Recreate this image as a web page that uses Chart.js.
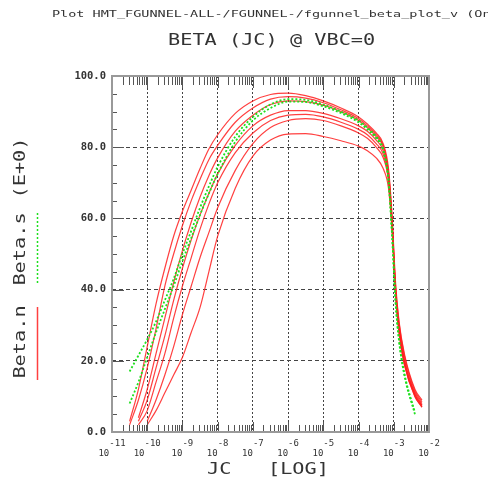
<!DOCTYPE html>
<html>
<head>
<meta charset="utf-8">
<script src="https://cdn.jsdelivr.net/npm/chart.js@4"></script>
<style>
  html, body { margin: 0; padding: 0; background: #fff; }
</style>
</head>
<body>
<canvas id="betaChart" width="488" height="485"></canvas>
<script>
// log10(JC) sample points
const logJc = [-10.5, -10.25, -10, -9.75, -9.5, -9.25, -9, -8.75, -8.5, -8.25, -8, -7.5, -7, -6.5, -6,
  -5.5, -5, -4.5, -4, -3.75, -3.5, -3.3, -3.15, -3.05, -2.95, -2.85, -2.7, -2.4, -2.2];

// Beta.n (measured, red)
const betaN1 = [3, 12, 24, 36, 46, 55, 62, 68, 74, 79.5, 83.5, 89.5, 93, 94.8, 95.2, 94.5, 93, 91, 88.5, 86.5, 84, 81, 74, 61, 42, 31, 22, 12, 9];
const betaN2 = [2, 9, 18, 29, 41, 50, 58, 65, 71, 76.5, 80.5, 87, 91, 93.5, 94.2, 93.8, 92.5, 90.5, 88, 86, 83.5, 80.5, 73, 60, 41, 30.5, 21.5, 11.5, 8.5];
const betaN3 = [null, 4, 12, 22, 32, 42, 51, 59, 66, 72, 77, 84.5, 89, 92, 93, 92.8, 91.8, 90, 87.5, 85.5, 83, 80, 72.5, 59, 40, 29.5, 20.5, 11, 8];
const betaN4 = [null, 3, 9, 18, 27, 37, 46, 54, 61, 67, 72.5, 80.5, 86, 89, 90.3, 90.3, 89.5, 88, 86, 84.5, 82, 79, 72, 58.5, 40, 29, 20, 10.5, 7.5];
const betaN5 = [null, 2, 6, 14, 22, 32, 41, 49, 57, 64, 70, 78.5, 84, 87.5, 89, 89.2, 88.5, 87, 85, 83.5, 81, 78, 71, 58, 39.5, 28.5, 19.5, 10.5, 7.5];
const betaN6 = [null, null, 3, 9, 16, 24, 33, 41, 49, 56, 63, 73.5, 81, 85.5, 87.5, 88, 87.5, 86, 84, 82.5, 80, 77, 70.5, 57.5, 39, 28, 19, 10, 7];
const betaN7 = [null, null, 2, 6, 11, 16, 21, 28, 35, 45, 55, 68.5, 77.5, 82, 83.7, 83.8, 83, 81.8, 80.3, 79, 77, 74, 68.5, 57, 39, 28, 19, 10, 7];

// Beta.s (simulated, green)
const betaS1 = [17, 21.5, 26, 31, 37, 43, 50, 56.5, 63, 69, 74.5, 83, 88.5, 92, 93.5, 93.3, 92, 90, 87.5, 85.5, 83, 79.5, 71, 56, 37, 26, 16.5, 5.5, null];
const betaS2 = [8, 14, 21, 28, 34.5, 41, 48, 54.5, 61, 67, 72.5, 81.5, 87.5, 91, 92.8, 92.7, 91.5, 89.6, 87, 85, 82.5, 79, 70.5, 55.5, 36.5, 25.5, 16, 5, null];

const yTicks = [0, 20, 40, 60, 80, 100];
const decades = [-11, -10, -9, -8, -7, -6, -5, -4, -3, -2];

const RED = "rgba(255, 30, 30, 0.85)";
const GREEN = "#1ee01e";
const TEXT = "#333";
const MONO = '"DejaVu Sans Mono", monospace';

const toPoints = (vals) => logJc.map((x, i) => ({ x: x, y: vals[i] }));

const redSet = (vals) => ({
  data: toPoints(vals),
  borderColor: RED,
  borderWidth: 1.2,
  pointRadius: 0,
  cubicInterpolationMode: "monotone",
});
const greenSet = (vals) => ({
  data: toPoints(vals),
  borderColor: GREEN,
  borderWidth: 1.8,
  borderDash: [2, 2],
  pointRadius: 0,
  cubicInterpolationMode: "monotone",
});

// stretched monospace text, like the plotter font
function wideText(ctx, text, x, y, size, stretch, rot) {
  ctx.save();
  ctx.translate(x, y);
  if (rot) ctx.rotate(rot);
  ctx.scale(stretch, 1);
  ctx.font = size + "px " + MONO;
  ctx.fillStyle = TEXT;
  ctx.fillText(text, 0, 0);
  ctx.restore();
}

const frameDecor = {
  id: "frameDecor",
  afterDatasetsDraw(chart) {
    const { ctx, chartArea: a, scales } = chart;
    const xs = scales.x, ys = scales.y;
    ctx.save();
    ctx.strokeStyle = "#555";
    ctx.lineWidth = 1;
    ctx.beginPath();
    // log minor ticks on top and bottom edges
    decades.slice(0, -1).forEach((d) => {
      for (let k = 1; k <= 9; k++) {
        const px = Math.round(xs.getPixelForValue(d + Math.log10(k))) + 0.5;
        const len = k === 1 ? 10 : 7;
        ctx.moveTo(px, a.bottom); ctx.lineTo(px, a.bottom - len);
        ctx.moveTo(px, a.top); ctx.lineTo(px, a.top + len + 2);
      }
    });
    // minor ticks on the left edge
    for (let v = 5; v < 100; v += 5) {
      const py = Math.round(ys.getPixelForValue(v)) + 0.5;
      const len = v % 20 === 0 ? 12 : 5;
      ctx.moveTo(a.left, py); ctx.lineTo(a.left + len, py);
    }
    ctx.stroke();
    // frame
    ctx.strokeStyle = "#999";
    ctx.lineWidth = 2;
    ctx.strokeRect(a.left, a.top, a.right - a.left, a.bottom - a.top);
    ctx.restore();
  },
  afterDraw(chart) {
    const ctx = chart.ctx;
    ctx.save();
    ctx.textBaseline = "alphabetic";
    ctx.textAlign = "left";
    wideText(ctx, "Plot HMT_FGUNNEL-ALL-/FGUNNEL-/fgunnel_beta_plot_v (On)", 52, 17, 9.5, 1.42);
    wideText(ctx, "BETA (JC) @ VBC=0", 168, 45, 15, 1.35);
    wideText(ctx, "JC   [LOG]", 207, 474, 15, 1.35);
    // left axis title / legend
    ctx.textAlign = "center";
    ctx.textBaseline = "middle";
    wideText(ctx, "Beta.n", 21, 342, 15, 1.35, -Math.PI / 2);
    wideText(ctx, "Beta.s", 21, 249, 15, 1.35, -Math.PI / 2);
    wideText(ctx, "(E+0)", 21, 168, 15, 1.35, -Math.PI / 2);
    ctx.strokeStyle = RED;
    ctx.lineWidth = 1.5;
    ctx.beginPath(); ctx.moveTo(37.5, 307); ctx.lineTo(37.5, 380); ctx.stroke();
    ctx.strokeStyle = GREEN;
    ctx.setLineDash([2, 2]);
    ctx.beginPath(); ctx.moveTo(37.5, 213); ctx.lineTo(37.5, 283); ctx.stroke();
    ctx.restore();
  },
};

new Chart(document.getElementById("betaChart"), {
  type: "line",
  data: {
    datasets: [
      greenSet(betaS1), greenSet(betaS2),
      redSet(betaN1), redSet(betaN2), redSet(betaN3), redSet(betaN4),
      redSet(betaN5), redSet(betaN6), redSet(betaN7),
    ],
  },
  options: {
    responsive: false,
    devicePixelRatio: 1,
    animation: false,
    layout: { padding: { top: 76, right: 59, left: 0, bottom: 0 } },
    plugins: { legend: { display: false }, tooltip: { enabled: false } },
    scales: {
      x: {
        type: "linear",
        min: -11,
        max: -2,
        afterFit: (s) => { s.height = 53; },
        afterBuildTicks: (s) => { s.ticks = decades.map((v) => ({ value: v })); },
        grid: { color: "#444", lineWidth: 1, drawTicks: false },
        border: { display: false, dash: [2, 2] },
        ticks: {
          autoSkip: false,
          maxRotation: 0,
          padding: 7,
          color: TEXT,
          font: { family: MONO, size: 9, lineHeight: 1.05 },
          callback: (v) => ["  " + v, "10" + " ".repeat(String(v).length)],
        },
      },
      y: {
        min: 0,
        max: 100,
        afterFit: (s) => { s.width = 112; },
        afterBuildTicks: (s) => { s.ticks = yTicks.map((v) => ({ value: v })); },
        grid: { color: "#444", lineWidth: 1, drawTicks: false },
        border: { display: false, dash: [4, 3] },
        ticks: {
          padding: 6,
          color: TEXT,
          font: { family: MONO, size: 10.5, weight: "bold" },
          callback: (v) => v.toFixed(1),
        },
      },
    },
  },
  plugins: [frameDecor],
});
</script>
</body>
</html>
